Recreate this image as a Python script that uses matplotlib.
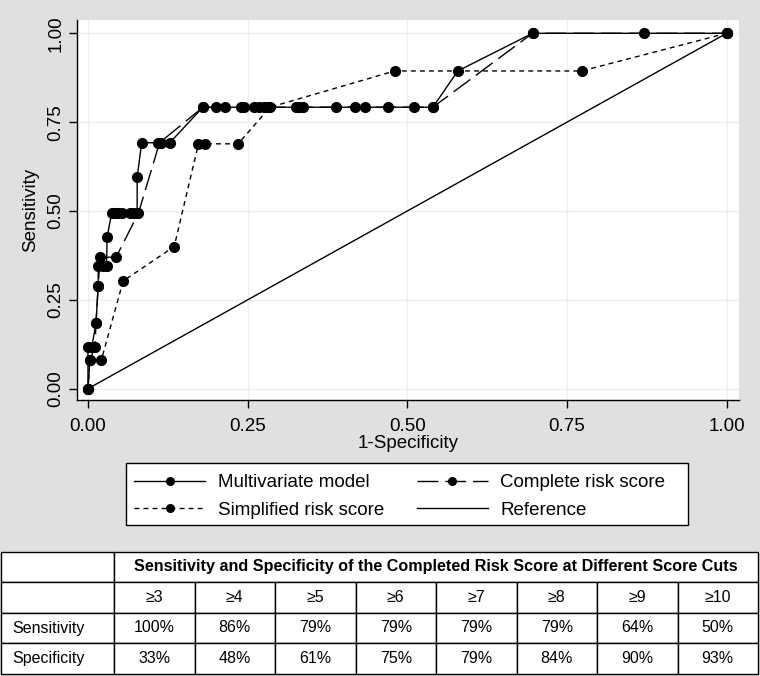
import matplotlib
matplotlib.use("Agg")
import matplotlib.pyplot as plt
from matplotlib.lines import Line2D
from matplotlib.patches import Rectangle

plt.rcParams['font.family'] = ['Liberation Sans', 'DejaVu Sans']

# ROC points
multi_x = [0, 0, 0.006, 0.0125, 0.016, 0.016, 0.024, 0.029, 0.030,
           0.037, 0.042, 0.047, 0.053, 0.066, 0.071, 0.077, 0.077,
           0.084, 0.110, 0.115, 0.128,
           0.180, 0.200, 0.215, 0.240, 0.260, 0.275, 0.325, 0.337, 0.388,
           0.418, 0.434, 0.470, 0.511, 0.540,
           0.579, 0.696, 0.871, 1.0]
multi_y = [0, 0.118, 0.118, 0.184, 0.289, 0.346, 0.346, 0.346, 0.426,
           0.494, 0.494, 0.494, 0.494, 0.494, 0.494, 0.494, 0.595,
           0.692, 0.692, 0.692, 0.692,
           0.792, 0.792, 0.792, 0.792, 0.792, 0.792, 0.792, 0.792, 0.792,
           0.792, 0.792, 0.792, 0.792, 0.792,
           0.894, 1.0, 1.0, 1.0]

complete_x = [0, 0.003, 0.011, 0.0125, 0.016, 0.019, 0.044, 0.079, 0.112,
              0.180, 0.245, 0.267, 0.282, 0.330, 0.540, 0.696, 1.0]
complete_y = [0, 0.081, 0.118, 0.184, 0.289, 0.370, 0.370, 0.494, 0.692,
              0.792, 0.792, 0.792, 0.792, 0.792, 0.792, 1.0, 1.0]

simple_x = [0, 0.003, 0.021, 0.055, 0.135, 0.173, 0.183, 0.235, 0.285,
            0.480, 0.773, 1.0]
simple_y = [0, 0.081, 0.081, 0.303, 0.400, 0.689, 0.689, 0.689, 0.792,
            0.894, 0.894, 1.0]

ref_x = [0, 1]
ref_y = [0, 1]

# table contents
cut_labels = ["≥3", "≥4", "≥5", "≥6", "≥7", "≥8", "≥9", "≥10"]
sens_values = ["100%", "86%", "79%", "79%", "79%", "79%", "64%", "50%"]
spec_values = ["33%", "48%", "61%", "75%", "79%", "84%", "90%", "93%"]
table_title = "Sensitivity and Specificity of the Completed Risk Score at Different Score Cuts"

W, H = 760, 676
BG = '#e0e0de'

fig = plt.figure(figsize=(W / 100, H / 100), dpi=100, facecolor=BG)
ax = fig.add_axes([77 / W, 1 - 400 / H, (739 - 77) / W, (400 - 20) / H])
ax.set_facecolor('white')

ms = 7
ax.plot(multi_x, multi_y, color='black', lw=1, marker='o', ms=ms, zorder=4)
ax.plot(complete_x, complete_y, color='black', lw=1, ls=(0, (15, 5)),
        marker='o', ms=ms, zorder=4)
ax.plot(simple_x, simple_y, color='black', lw=1, ls=(0, (3.5, 3)),
        marker='o', ms=ms, zorder=4)
ax.plot(ref_x, ref_y, color='black', lw=1, zorder=3)

ax.set_xlim(-0.0172, 1.0193)
ax.set_ylim(-0.0318, 1.0374)
ticks = [0, 0.25, 0.5, 0.75, 1.0]
ax.set_xticks(ticks)
ax.set_yticks(ticks)
ax.set_xticklabels(["%.2f" % t for t in ticks], fontsize=13.5)
ax.set_yticklabels(["%.2f" % t for t in ticks], fontsize=13.5,
                   rotation=90, va='center')
ax.tick_params(axis='x', length=6, width=1, color='black', pad=7)
ax.tick_params(axis='y', length=6, width=1, color='black', pad=3)
ax.grid(True, color='#efefef', lw=1)
ax.set_axisbelow(True)
for s in ['top', 'right']:
    ax.spines[s].set_visible(False)
for s in ['left', 'bottom']:
    ax.spines[s].set_linewidth(1)
ax.set_xlabel("1-Specificity", fontsize=13.5, labelpad=0)
ax.set_ylabel("Sensitivity", fontsize=13.5, labelpad=6)

# legend: frame drawn as a rectangle, entries placed inside
fig.patches.append(Rectangle((126 / W, 1 - 525 / H), (688 - 126) / W, (525 - 463) / H,
                             transform=fig.transFigure, facecolor='white',
                             edgecolor='black', lw=1, zorder=1))
handles = [
    Line2D([], [], color='black', lw=1, marker='o', ms=5.5),
    Line2D([], [], color='black', lw=1, ls=(0, (3.5, 3)), marker='o', ms=5.5),
    Line2D([], [], color='black', lw=1, ls=(0, (15, 5)), marker='o', ms=5.5),
    Line2D([], [], color='black', lw=1),
]
labels = ["Multivariate model", "Simplified risk score",
          "Complete risk score", "Reference"]
leg = fig.legend(handles, labels, ncol=2, fontsize=13.5,
                 bbox_to_anchor=(126 / W, 1 - 466 / H), loc='upper left',
                 frameon=False, handlelength=3.8, handletextpad=0.65,
                 labelspacing=0.55, borderaxespad=0, borderpad=0.43,
                 columnspacing=1.75)

# table
tab_ax = fig.add_axes([1 / W, 2 / H, 757 / W, 122 / H])
tab_ax.axis('off')
first_w = 113 / 757
head_h = 30 / 122

head = tab_ax.table(cellText=[["", table_title]],
                    colWidths=[first_w, 1 - first_w], cellLoc='center',
                    bbox=[0, 1 - head_h, 1, head_h])
head.auto_set_font_size(False)
head.set_fontsize(11.6)
for (r, c), cell in head.get_celld().items():
    cell.set_linewidth(1)
    cell.set_edgecolor('black')
    cell.set_facecolor('white')
    if c == 1:
        cell.get_text().set_fontweight('bold')

cell_text = [[""] + cut_labels,
             ["Sensitivity"] + sens_values,
             ["Specificity"] + spec_values]
col_widths = [first_w] + [(1 - first_w) / 8] * 8
tab = tab_ax.table(cellText=cell_text, colWidths=col_widths,
                   cellLoc='center', bbox=[0, 0, 1, 1 - head_h])
tab.auto_set_font_size(False)
tab.set_fontsize(11.5)
for (r, c), cell in tab.get_celld().items():
    cell.set_linewidth(1)
    cell.set_edgecolor('black')
    cell.set_facecolor('white')
    if c == 0:
        cell._loc = 'left'
        cell.get_text().set_ha('left')
        cell.PAD = 0.1

fig.savefig("out.png", dpi=100, facecolor=BG)
